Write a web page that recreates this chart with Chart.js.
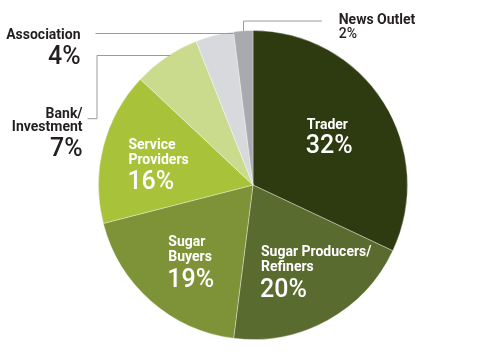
<!DOCTYPE html>
<html>
<head>
<meta charset="utf-8">
<script src="https://cdn.jsdelivr.net/npm/chart.js@4/dist/chart.umd.min.js"></script>
<style>
  html, body { margin: 0; padding: 0; background: #fff; }
  #wrap { width: 495px; height: 360px; }
</style>
</head>
<body>
<div id="wrap"><canvas id="pie" width="495" height="360"></canvas></div>
<script>
// data, clockwise from 12 o'clock
const categories = ["Trader", "Sugar Producers/Refiners", "Sugar Buyers", "Service Providers", "Bank/Investment", "Association", "News Outlet"];
const shares = [32, 20, 19, 16, 7, 4, 2];
const nameLines = [["Trader"], ["Sugar Producers/", "Refiners"], ["Sugar", "Buyers"], ["Service", "Providers"], ["Bank/", "Investment"], ["Association"], ["News Outlet"]];
const sliceColors = ["#2e3a0f", "#5a6b30", "#7e9238", "#a8c23a", "#cbdb8e", "#d8d9dc", "#a9aaae"];

// label layout: offsets from pie centre (px at radius 155)
const inside = {
  0: { dx: 54, y0: -56, pct: -32 },
  1: { dx: 8, y0: 71, pct: 112 },
  2: { dx: -85, y0: 61, pct: 102 },
  3: { dx: -125, y0: -36, pct: 4 }
};
const outside = {
  4: { dx: -171, y0: -67, pct: -29, align: "right", t: 0.57, rf: 1.0 },
  5: { dx: -173, y0: -146, pct: -121, align: "right", t: 1.0, rf: 0.99 },
  6: { dx: 86, y0: -162, pct: -147, align: "left", t: 0.5, rf: 1.0, small: true }
};

const FONT = "Roboto, 'Liberation Sans', Arial, sans-serif";

const labelPlugin = {
  id: "sliceLabels",
  afterDatasetsDraw(chart) {
    const ctx = chart.ctx;
    const arcs = chart.getDatasetMeta(0).data;
    const cx = arcs[0].x, cy = arcs[0].y, r = arcs[0].outerRadius;
    const s = r / 155;
    ctx.save();
    ctx.textBaseline = "alphabetic";

    Object.keys(inside).forEach(k => {
      const p = inside[k];
      ctx.fillStyle = "#ffffff";
      ctx.textAlign = "left";
      ctx.font = "bold 14px " + FONT;
      nameLines[k].forEach((ln, j) => ctx.fillText(ln, cx + p.dx * s, cy + p.y0 * s + j * 15));
      ctx.font = "500 25px " + FONT;
      ctx.fillText(shares[k] + "%", cx + p.dx * s - 1, cy + p.pct * s);
    });

    ctx.strokeStyle = "#9a9a9c";
    ctx.lineWidth = 1;
    Object.keys(outside).forEach(k => {
      const p = outside[k];
      const a = arcs[k];
      const ang = a.startAngle + p.t * (a.endAngle - a.startAngle);
      const ex = cx + Math.cos(ang) * r * p.rf;
      const ey = cy + Math.sin(ang) * r * p.rf;
      ctx.beginPath();
      if (+k === 6) {
        ctx.moveTo(Math.round(ex) + 0.5, ey);
        ctx.lineTo(Math.round(ex) + 0.5, cy - 165 * s + 0.5);
        ctx.lineTo(cx + 69 * s, cy - 165 * s + 0.5);
      } else if (+k === 5) {
        ctx.moveTo(ex, Math.round(ey) + 0.5);
        ctx.lineTo(cx - 158 * s, Math.round(ey) + 0.5);
      } else {
        ctx.moveTo(ex, Math.round(ey) + 0.5);
        ctx.lineTo(cx - 157 * s + 0.5, Math.round(ey) + 0.5);
        ctx.lineTo(cx - 157 * s + 0.5, cy - 67 * s + 0.5);
        ctx.lineTo(cx - 166 * s, cy - 67 * s + 0.5);
      }
      ctx.stroke();

      ctx.fillStyle = "#231f20";
      ctx.textAlign = p.align;
      ctx.font = "bold 14px " + FONT;
      nameLines[k].forEach((ln, j) => ctx.fillText(ln, cx + p.dx * s, cy + p.y0 * s + j * 13));
      ctx.font = p.small ? "500 14px " + FONT : "500 25px " + FONT;
      ctx.fillText(shares[k] + "%", cx + p.dx * s, cy + p.pct * s);
    });
    ctx.restore();
  }
};

new Chart(document.getElementById("pie"), {
  type: "pie",
  data: {
    labels: categories,
    datasets: [{
      data: shares,
      backgroundColor: sliceColors,
      borderColor: "rgba(255,255,255,0.35)",
      borderWidth: 1
    }]
  },
  options: {
    responsive: false,
    animation: false,
    events: [],
    layout: { padding: { top: 30, bottom: 20, left: 98, right: 87 } },
    plugins: { legend: { display: false }, tooltip: { enabled: false } }
  },
  plugins: [labelPlugin]
});
</script>
</body>
</html>
